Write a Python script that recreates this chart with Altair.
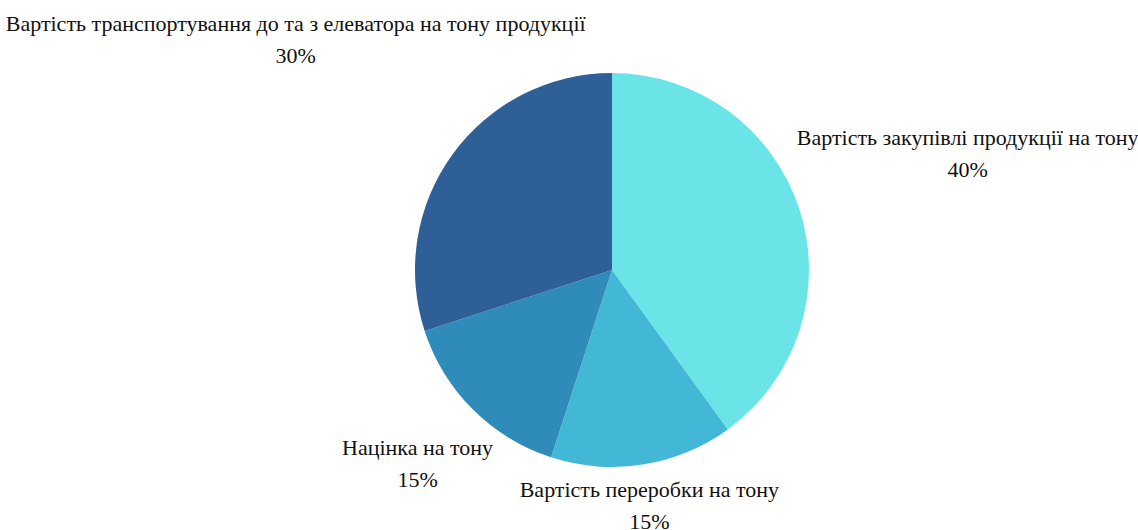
import altair as alt
import pandas as pd
import math

categories = [
    "Вартість закупівлі продукції на тону",
    "Вартість переробки на тону",
    "Націнка на тону",
    "Вартість транспортування до та з елеватора на тону продукції",
]
shares = [40, 15, 15, 30]
colors = ["#6BE4E8", "#43B8D6", "#2E8BBA", "#2E5F97"]
# label distance from the pie centre (px), per slice
label_radius = [374, 239, 275, 391]

df = pd.DataFrame({
    "cat": categories,
    "val": shares,
    "order": list(range(len(categories))),
    "lr": label_radius,
})
df["txt"] = [f"{c}\n{v}%" for c, v in zip(categories, shares)]

pie = alt.Chart(df).mark_arc(outerRadius=197).encode(
    theta=alt.Theta("val:Q", stack=True),
    order=alt.Order("order:Q"),
    color=alt.Color("cat:N", scale=alt.Scale(domain=categories, range=colors), legend=None),
)

labels = alt.Chart(df).transform_window(
    cum="sum(val)", sort=[alt.SortField("order")], frame=[None, 0]
).transform_joinaggregate(
    total="sum(val)"
).transform_calculate(
    mid="(datum.cum - datum.val / 2) / datum.total"
).mark_text(
    font="serif", fontSize=22, lineBreak="\n", lineHeight=32, dy=-16,
    align="center", baseline="middle", color="#111111",
).encode(
    theta=alt.Theta("mid:Q", stack=None, scale=alt.Scale(domain=[0, 1], range=[0, 2 * math.pi])),
    radius=alt.Radius("lr:Q", scale=None),
    text="txt:N",
)

chart = (pie + labels).properties(
    width=1052, height=520,
    padding={"left": 86, "top": 10, "right": 0, "bottom": 0},
    autosize="none",
).resolve_scale(theta="independent").configure_view(stroke=None)

chart.save("out.html", embed_options={"renderer": "svg", "actions": False})
